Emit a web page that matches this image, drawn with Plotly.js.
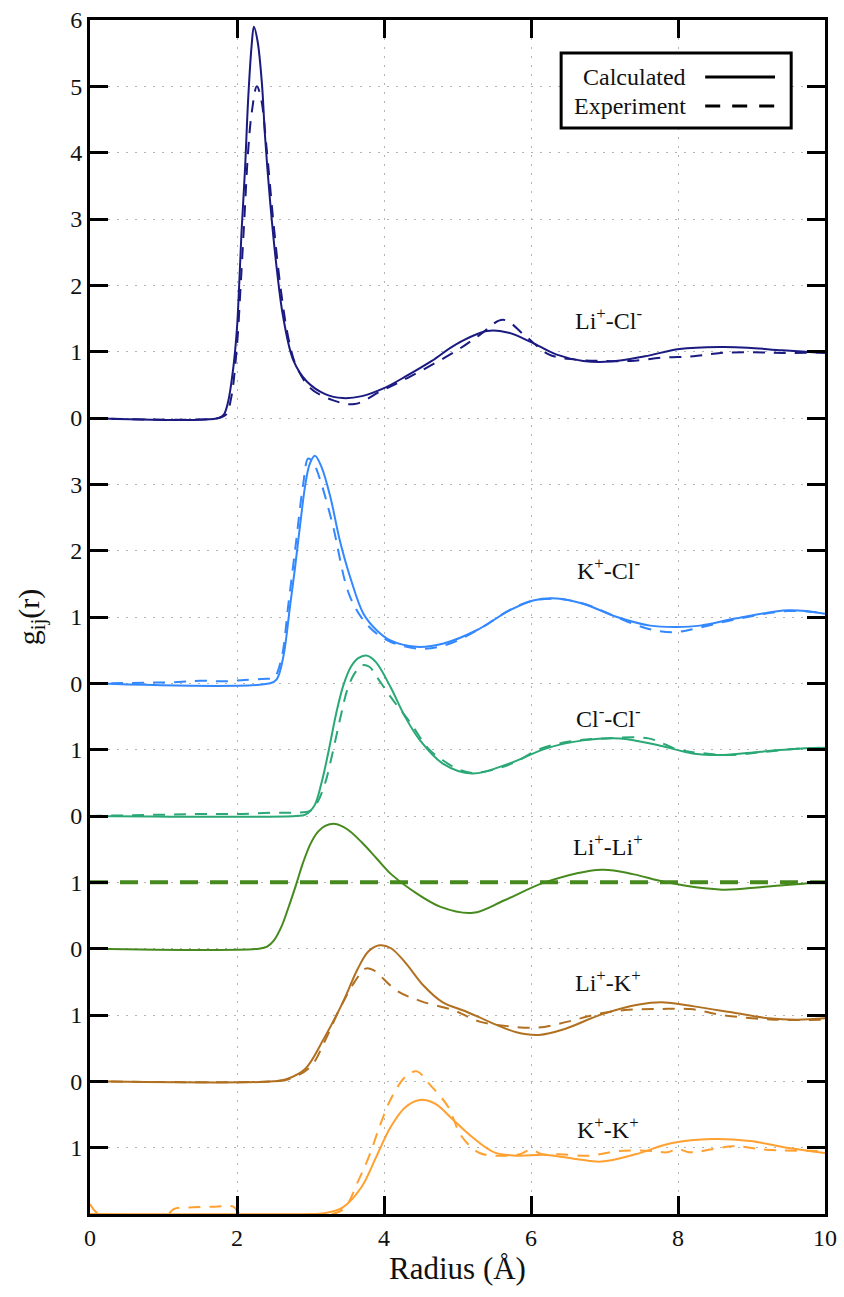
<!DOCTYPE html>
<html>
<head>
<meta charset="utf-8">
<script src="https://cdn.plot.ly/plotly-3.0.1.min.js"></script>
<style>html,body{margin:0;padding:0;background:#fff}#chart{width:844px;height:1297px}</style>
</head>
<body>
<div id="chart"></div>
<script>
// ---------- DATA ----------
const pairLabels = ['Li<sup>+</sup>-Cl<sup>-</sup>', 'K<sup>+</sup>-Cl<sup>-</sup>', 'Cl<sup>-</sup>-Cl<sup>-</sup>',
                    'Li<sup>+</sup>-Li<sup>+</sup>', 'Li<sup>+</sup>-K<sup>+</sup>', 'K<sup>+</sup>-K<sup>+</sup>'];
const offsets = [12, 8, 6, 4, 2, 0];

const xTicks = [0, 2, 4, 6, 8, 10];
const xTickText = ['0', '2', '4', '6', '8', '10'];
const yTicks = [1,2,3,4,5,6,7,8,9,10,11,12,13,14,15,16,17,18];
const yTickText = ['1','0','1','0','1','0','1','0','1','2','3','0','1','2','3','4','5','6'];

// Li+-Cl-
const r_LiCl_calc = [0, 1.75, 1.82, 1.88, 1.95, 2.0, 2.03, 2.06, 2.11, 2.15, 2.2, 2.23, 2.28, 2.34, 2.38, 2.45, 2.54, 2.63, 2.77, 2.95, 3.2, 3.44, 3.7, 4.0, 4.3, 4.65, 4.98, 5.4, 5.68, 6.01, 6.34, 6.71, 7.08, 7.55, 8.02, 8.58, 8.95, 9.42, 10];
const g_LiCl_calc = [0, 0, 0.05, 0.25, 0.76, 1.36, 2.01, 2.77, 3.77, 4.77, 5.63, 5.9, 5.68, 5.03, 4.27, 3.27, 2.26, 1.51, 0.86, 0.55, 0.36, 0.3, 0.33, 0.45, 0.63, 0.86, 1.11, 1.31, 1.29, 1.14, 0.96, 0.86, 0.85, 0.93, 1.04, 1.07, 1.06, 1.02, 0.98];
const r_LiCl_exp = [0, 1.75, 1.85, 1.92, 2.0, 2.05, 2.1, 2.15, 2.2, 2.27, 2.33, 2.4, 2.5, 2.6, 2.7, 2.8, 3.0, 3.3, 3.6, 3.95, 4.33, 4.98, 5.3, 5.62, 5.92, 6.24, 6.6, 6.99, 7.36, 7.79, 8.21, 8.58, 9.0, 9.42, 10];
const g_LiCl_exp = [0, 0, 0.05, 0.3, 1.1, 2.0, 3.0, 4.0, 4.6, 5.0, 4.8, 4.1, 2.9, 1.9, 1.2, 0.8, 0.45, 0.27, 0.21, 0.4, 0.61, 1.01, 1.25, 1.48, 1.24, 0.96, 0.88, 0.86, 0.86, 0.91, 0.93, 0.98, 0.99, 0.98, 0.99];

// K+-Cl-
const r_KCl_calc = [0, 2.45, 2.54, 2.63, 2.72, 2.79, 2.86, 2.93, 2.99, 3.06, 3.15, 3.27, 3.40, 3.54, 3.72, 3.90, 4.08, 4.44, 4.81, 5.26, 5.71, 6.03, 6.35, 6.71, 7.17, 7.62, 7.98, 8.30, 8.8, 9.5, 10];
const g_KCl_calc = [0, 0, 0.06, 0.4, 1.15, 1.75, 2.4, 3.0, 3.31, 3.43, 3.26, 2.81, 2.15, 1.60, 1.05, 0.80, 0.65, 0.55, 0.60, 0.80, 1.10, 1.25, 1.28, 1.20, 1.0, 0.87, 0.85, 0.87, 0.98, 1.1, 1.05];
const r_KCl_exp = [0, 1.2, 1.5, 1.8, 2.1, 2.4, 2.5, 2.6, 2.7, 2.8, 2.9, 2.97, 3.05, 3.15, 3.3, 3.54, 3.8, 4.1, 4.53, 4.9, 5.3, 5.7, 6.0, 6.4, 6.8, 7.2, 7.6, 7.93, 8.3, 8.8, 9.5, 10];
const g_KCl_exp = [0, 0.02, 0.04, 0.03, 0.05, 0.07, 0.08, 0.35, 1.2, 2.1, 3.0, 3.39, 3.3, 3.0, 2.4, 1.3, 0.85, 0.62, 0.52, 0.6, 0.82, 1.1, 1.24, 1.27, 1.17, 0.98, 0.82, 0.77, 0.84, 0.97, 1.09, 1.06];

// Cl--Cl-
const r_ClCl_calc = [0, 2.8, 2.93, 3.05, 3.15, 3.25, 3.35, 3.45, 3.55, 3.65, 3.76, 3.89, 4.09, 4.29, 4.49, 4.80, 5.20, 5.70, 6.21, 6.71, 7.21, 7.72, 8.22, 8.62, 9.13, 9.73, 10];
const g_ClCl_calc = [0, 0, 0.02, 0.15, 0.5, 1.0, 1.55, 1.98, 2.25, 2.38, 2.42, 2.32, 1.94, 1.49, 1.14, 0.79, 0.64, 0.79, 1.02, 1.14, 1.17, 1.07, 0.94, 0.92, 0.97, 1.02, 1.03];
const r_ClCl_exp = [0, 1.0, 1.5, 2.0, 2.5, 2.8, 3.0, 3.1, 3.2, 3.3, 3.4, 3.5, 3.6, 3.7, 3.8, 3.9, 4.1, 4.35, 4.6, 4.8, 5.0, 5.2, 5.5, 5.8, 6.1, 6.5, 7.0, 7.6, 8.0, 8.3, 8.7, 9.2, 9.7, 10];
const g_ClCl_exp = [0, 0.02, 0.03, 0.03, 0.05, 0.05, 0.08, 0.22, 0.5, 0.95, 1.45, 1.9, 2.15, 2.27, 2.25, 2.1, 1.78, 1.42, 1.02, 0.84, 0.71, 0.65, 0.7, 0.82, 1.0, 1.12, 1.17, 1.17, 1.0, 0.95, 0.92, 0.97, 1.02, 1.03];

// Li+-Li+
const r_LiLi_calc = [0, 2.3, 2.41, 2.5, 2.6, 2.7, 2.8, 2.9, 3.0, 3.1, 3.2, 3.34, 3.5, 3.7, 3.9, 4.1, 4.38, 4.77, 5.21, 5.64, 6.19, 6.96, 7.40, 7.84, 8.60, 9.15, 9.70, 10];
const g_LiLi_calc = [0, 0, 0.03, 0.12, 0.32, 0.62, 0.95, 1.3, 1.58, 1.76, 1.85, 1.88, 1.8, 1.6, 1.36, 1.12, 0.88, 0.63, 0.54, 0.73, 1.0, 1.19, 1.12, 1.0, 0.89, 0.93, 0.98, 1.0];
const r_LiLi_exp = [0, 10];
const g_LiLi_exp = [1, 1];

// Li+-K+
const r_LiK_calc = [0, 2.5, 2.68, 2.93, 3.18, 3.44, 3.64, 3.79, 3.94, 4.09, 4.29, 4.54, 4.80, 5.10, 5.45, 5.80, 6.11, 6.46, 6.96, 7.47, 7.82, 8.22, 8.73, 9.23, 9.63, 10];
const g_LiK_calc = [0, 0, 0.035, 0.19, 0.64, 1.19, 1.69, 1.96, 2.05, 2.01, 1.79, 1.44, 1.19, 1.06, 0.89, 0.74, 0.70, 0.79, 1.01, 1.16, 1.19, 1.13, 1.04, 0.95, 0.93, 0.95];
const r_LiK_exp = [0, 2.5, 2.7, 3.0, 3.2, 3.4, 3.6, 3.75, 3.85, 4.17, 4.5, 4.95, 5.3, 5.7, 6.1, 6.5, 6.93, 7.33, 7.75, 8.17, 8.6, 9.3, 10];
const g_LiK_exp = [0, 0, 0.03, 0.22, 0.62, 1.1, 1.5, 1.7, 1.68, 1.37, 1.21, 1.07, 0.9, 0.83, 0.81, 0.9, 1.02, 1.08, 1.09, 1.09, 1.0, 0.93, 0.93];

// K+-K+
const r_KK_calc = [0, 3.0, 3.18, 3.44, 3.69, 3.89, 4.09, 4.29, 4.49, 4.70, 4.95, 5.20, 5.50, 5.80, 6.21, 6.61, 6.96, 7.42, 7.92, 8.47, 8.98, 9.48, 10];
const g_KK_calc = [0, 0, 0.01, 0.10, 0.40, 0.85, 1.31, 1.61, 1.72, 1.66, 1.41, 1.16, 0.93, 0.88, 0.89, 0.83, 0.79, 0.90, 1.07, 1.13, 1.10, 1.0, 0.92];
const r_KK_exp = [0, 0.08, 0.15, 1.05, 1.15, 1.4, 1.7, 1.95, 2.05, 3.3, 3.47, 3.65, 3.8, 3.95, 4.1, 4.3, 4.45, 4.6, 4.87, 5.05, 5.3, 5.65, 5.85, 6.0, 6.15, 6.4, 6.8, 7.2, 7.65, 7.85, 8.0, 8.15, 8.75, 9.2, 10];
const g_KK_exp = [0.15, 0.03, 0, 0, 0.08, 0.1, 0.11, 0.11, 0, 0, 0.1, 0.5, 0.88, 1.35, 1.75, 2.08, 2.15, 1.98, 1.62, 1.18, 0.92, 0.88, 0.9, 0.97, 0.9, 0.9, 0.88, 0.95, 0.95, 0.93, 0.98, 0.93, 1.02, 0.97, 0.95];

// ---------- STYLE ----------
const FONT = "Liberation Serif";
const colors = ['#1a1a80', '#3388ff', '#2aa876', '#468a1e', '#b07020', '#ffa030'];
const calcR = [r_LiCl_calc, r_KCl_calc, r_ClCl_calc, r_LiLi_calc, r_LiK_calc, r_KK_calc];
const calcG = [g_LiCl_calc, g_KCl_calc, g_ClCl_calc, g_LiLi_calc, g_LiK_calc, g_KK_calc];
const expR = [r_LiCl_exp, r_KCl_exp, r_ClCl_exp, r_LiLi_exp, r_LiK_exp, r_KK_exp];
const expG = [g_LiCl_exp, g_KCl_exp, g_ClCl_exp, g_LiLi_exp, g_LiK_exp, g_KK_exp];

const traces = [];
for (let i = 5; i >= 0; i--) {
  const off = offsets[i];
  const isLiLi = (i === 3);
  traces.push({
    x: expR[i], y: expG[i].map(v => v + off), mode: 'lines', type: 'scatter',
    line: {color: colors[i], width: isLiLi ? 4 : 2, dash: isLiLi ? '18px,12px' : '12px,9px', shape: 'spline', smoothing: 1},
    hoverinfo: 'skip', showlegend: false
  });
  traces.push({
    x: calcR[i], y: calcG[i].map(v => v + off), mode: 'lines', type: 'scatter',
    line: {color: colors[i], width: 2, shape: 'spline', smoothing: 1},
    hoverinfo: 'skip', showlegend: false
  });
}

const labelY = [13.5, 9.73, 7.5, 5.56, 3.51, 1.3];
const annotations = pairLabels.map((t, i) => ({
  text: t, x: 7.05, y: labelY[i], xref: 'x', yref: 'y', showarrow: false,
  xanchor: 'center', yanchor: 'middle', font: {family: FONT, size: 24, color: '#111'}
}));
annotations.push({text: 'Calculated', x: 0.8136, y: 0.9523, xref: 'paper', yref: 'paper', showarrow: false,
  xanchor: 'right', yanchor: 'middle', font: {family: FONT, size: 24, color: '#111'}});
annotations.push({text: 'Experiment', x: 0.8136, y: 0.928, xref: 'paper', yref: 'paper', showarrow: false,
  xanchor: 'right', yanchor: 'middle', font: {family: FONT, size: 24, color: '#111'}});

const shapes = [
  {type: 'rect', xref: 'paper', yref: 'paper', x0: 0.641, x1: 0.954, y0: 0.9095, y1: 0.9724,
   line: {color: '#000', width: 3}, fillcolor: '#fff', layer: 'above'},
  {type: 'line', xref: 'paper', yref: 'paper', x0: 0.837, x1: 0.932, y0: 0.9523, y1: 0.9523,
   line: {color: '#000', width: 3}},
  {type: 'line', xref: 'paper', yref: 'paper', x0: 0.837, x1: 0.932, y0: 0.928, y1: 0.928,
   line: {color: '#000', width: 3, dash: '15px,12px'}}
];

const axisCommon = {
  ticks: 'inside', ticklen: 18, tickwidth: 3, tickcolor: '#000',
  showline: true, linecolor: '#000', linewidth: 3, mirror: 'ticks',
  showgrid: true, gridcolor: '#b4b4b4', gridwidth: 1, griddash: '2px,7px',
  zeroline: false, tickfont: {family: FONT, size: 24, color: '#111'}
};

const layout = {
  width: 844, height: 1297,
  margin: {l: 90, r: 19, t: 20, b: 83},
  paper_bgcolor: '#fff', plot_bgcolor: '#fff',
  font: {family: FONT, size: 24, color: '#111'},
  showlegend: false,
  xaxis: Object.assign({}, axisCommon, {
    range: [0, 10], tickmode: 'array', tickvals: xTicks, ticktext: xTickText,
    title: {text: 'Radius (Å)', font: {family: FONT, size: 31, color: '#111'}, standoff: 8}
  }),
  yaxis: Object.assign({}, axisCommon, {
    range: [0, 18], tickmode: 'array', tickvals: yTicks, ticktext: yTickText,
    title: {text: 'g<sub>ij</sub>(r)', font: {family: FONT, size: 30, color: '#111'}, standoff: 22}
  }),
  annotations: annotations,
  shapes: shapes
};

Plotly.newPlot('chart', traces, layout, {displayModeBar: false});
</script>
</body>
</html>
